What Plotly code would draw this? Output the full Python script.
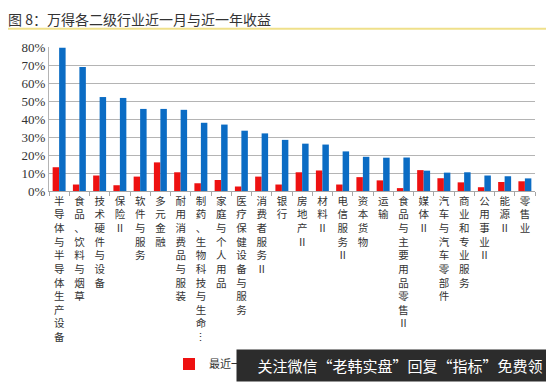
import plotly.graph_objects as go

categories = [
    "半导体与半导体生产设备", "食品、饮料与烟草", "技术硬件与设备", "保险Ⅱ", "软件与服务",
    "多元金融", "耐用消费品与服装", "制药、生物科技与生命⋮", "家庭与个人用品", "医疗保健设备与服务",
    "消费者服务Ⅱ", "银行", "房地产Ⅱ", "材料Ⅱ", "电信服务Ⅱ", "资本货物", "运输",
    "食品与主要用品零售Ⅱ", "媒体Ⅱ", "汽车与汽车零部件", "商业和专业服务", "公用事业Ⅱ", "能源Ⅱ", "零售业",
]
month_ret = [13.2, 3.6, 8.6, 3.2, 8.0, 15.9, 10.4, 4.3, 6.1, 2.5,
             8.0, 3.6, 10.4, 11.4, 3.6, 7.7, 5.9, 1.6, 11.6, 7.1,
             4.8, 2.1, 5.0, 5.4]
year_ret = [79.6, 68.9, 52.2, 51.7, 45.6, 45.6, 45.1, 37.9, 36.9, 33.5,
            32.0, 28.4, 26.3, 25.8, 22.0, 19.0, 18.5, 18.6, 11.3, 10.2,
            10.4, 8.6, 8.2, 7.0]
series_names = ["最近一月", "最近一年"]
title_text = "图 8：万得各二级行业近一月与近一年收益"
banner_text = "关注微信“老韩实盘”回复“指标”免费领"

W, H = 554, 383
L, R, T, B = 41, 27, 39, 195
pw, ph = W - L - R, H - T - B

def px_x(x):
    return (x - L) / pw

def px_y(y):
    return (H - B - y) / ph

tick_text = ["<br>".join(list(c)) for c in categories]

fig = go.Figure()
fig.add_bar(x=categories, y=[v / 100 for v in month_ret], name=series_names[0],
            marker_color="#EE1111", marker_line_width=0)
fig.add_bar(x=categories, y=[v / 100 for v in year_ret], name=series_names[1],
            marker_color="#0B6CC4", marker_line_width=0)

fig.update_layout(
    width=W, height=H,
    margin=dict(l=L, r=R, t=T, b=B),
    paper_bgcolor="white", plot_bgcolor="white",
    barmode="group", bargap=0.36, bargroupgap=0,
    font=dict(family="Noto Sans CJK SC", color="#333333"),
    title=dict(text=title_text, xref="container", yref="container",
               x=0.0, xanchor="left", y=1 - 12 / H, yanchor="middle",
               font=dict(family="Noto Sans CJK SC", size=14, color="#333333")),
    legend=dict(orientation="h", x=px_x(161), xanchor="left", y=px_y(367), yanchor="middle",
                font=dict(family="Noto Sans CJK SC", size=11, color="#333333"),
                bgcolor="rgba(0,0,0,0)", traceorder="normal"),
    xaxis=dict(type="category", tickvals=categories, ticktext=tick_text,
               tickangle=0, ticks="outside", tickson="boundaries", ticklen=4,
               tickcolor="#A6A6A6", showline=True, linecolor="#A6A6A6", linewidth=1,
               tickfont=dict(family="Noto Sans CJK SC", size=10.5, color="#333333"),
               showgrid=False),
    yaxis=dict(range=[0, 0.8], dtick=0.1, tickformat=".0%", showgrid=True,
               gridcolor="#B4B4B4", gridwidth=1, showline=True, linecolor="#B4B4B4",
               zeroline=False, ticks="",
               tickfont=dict(family="Liberation Serif", size=13, color="#333333")),
    shapes=[dict(type="line", xref="paper", yref="paper",
                 x0=px_x(0), x1=px_x(W), y0=px_y(20), y1=px_y(20),
                 line=dict(color="#EFE08A", width=2))],
    annotations=[dict(text=banner_text, xref="paper", yref="paper",
                      x=px_x(228), xanchor="left", y=px_y(352), yanchor="top",
                      width=W - 228, height=31, showarrow=False, align="center",
                      bgcolor="#2C2C2C", borderpad=0,
                      font=dict(family="Noto Sans CJK SC", size=15, color="white"))],
)

fig.write_html("out.html")
